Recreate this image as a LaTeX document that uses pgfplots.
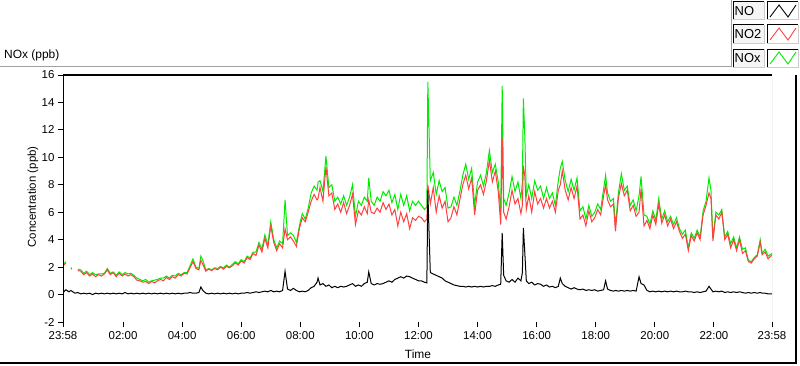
\documentclass[border=0pt]{standalone}
\usepackage{pgfplots}
\usepackage{pgfplotstable}
\pgfplotsset{compat=1.18}
\usepackage{fontspec}
\setmainfont{Liberation Sans}
\definecolor{noxgreen}{RGB}{0,235,0}
\definecolor{notwored}{RGB}{255,64,64}
\definecolor{frame}{RGB}{160,160,160}

\pgfplotstableread{
t NO NO2 NOx
0 0.15 2.1 2.2
6 0.35 2.3 2.4
12 0.2 nan nan
16 0.3 1.85 1.9
18 0.25 1.9 1.95
24 0.1 nan nan
30 0.15 1.75 1.85
36 0.05 1.7 1.8
42 0.1 1.45 1.55
48 0.05 1.6 1.7
54 0.1 1.35 1.45
60 0.0 1.5 1.6
66 0.1 1.3 1.45
72 0.05 1.45 1.5
78 0.1 1.35 1.5
84 0.05 1.5 1.55
90 0.1 1.8 1.9
96 0.05 1.45 1.55
102 0.1 1.6 1.65
108 0.05 1.3 1.4
114 0.1 1.55 1.65
120 0.05 1.35 1.45
126 0.15 1.5 1.6
132 0.05 1.35 1.5
138 0.1 1.45 1.55
144 0.05 1.3 1.4
150 0.1 1.05 1.2
156 0.05 1.0 1.1
162 0.1 0.9 1.0
168 0.05 0.95 1.1
174 0.1 0.8 0.9
180 0.05 0.95 1.0
186 0.1 0.85 1.05
192 0.05 1.0 1.1
198 0.1 1.1 1.2
204 0.05 1.0 1.2
210 0.1 1.25 1.35
216 0.05 1.1 1.2
222 0.1 1.3 1.4
228 0.05 1.2 1.35
234 0.1 1.45 1.55
240 0.05 1.35 1.45
246 0.1 1.55 1.6
252 0.1 1.5 1.6
258 0.15 1.95 2.1
264 0.1 2.4 2.6
270 0.1 1.9 2.0
276 0.15 1.8 1.9
280 0.55 2.5 2.8
284 0.3 2.2 2.5
290 0.1 1.7 1.8
296 0.05 1.85 1.9
302 0.1 1.75 1.8
308 0.05 1.9 1.95
314 0.1 1.8 1.9
320 0.05 2.0 2.05
326 0.1 1.85 1.95
332 0.05 2.05 2.15
338 0.1 1.95 2.0
344 0.05 2.1 2.2
350 0.1 2.3 2.4
356 0.05 2.15 2.25
362 0.1 2.45 2.55
368 0.1 2.3 2.4
374 0.15 2.7 2.8
380 0.1 2.55 2.65
386 0.15 3.0 3.1
392 0.2 2.85 3.1
398 0.15 3.6 3.8
404 0.2 3.1 3.3
410 0.25 4.1 4.35
416 0.2 3.4 3.6
422 0.3 5.0 5.3
428 0.2 3.8 4.0
434 0.25 3.2 3.4
440 0.2 3.7 3.9
446 0.3 3.4 3.7
451 1.7 4.8 6.9
456 0.4 4.0 4.3
462 0.3 4.2 4.5
468 0.45 3.9 4.3
474 0.3 3.5 3.8
480 0.2 4.8 5.0
486 0.25 5.6 5.9
492 0.2 5.3 5.5
498 0.3 6.0 6.3
504 0.5 6.8 7.4
510 0.6 7.3 7.9
516 0.9 6.9 7.6
518 1.2 7.0 8.2
522 0.7 7.8 8.3
528 0.8 6.8 7.5
534 0.6 9.3 10.1
540 0.7 7.2 7.8
546 0.5 7.4 8.0
552 0.6 6.2 6.8
558 0.5 6.6 7.1
564 0.6 6.0 6.6
570 0.55 6.7 7.2
576 0.6 5.9 6.5
582 0.7 6.5 7.1
588 0.8 7.3 8.0
594 0.6 5.1 5.7
600 0.7 6.1 6.8
606 0.6 5.8 6.5
612 0.8 6.4 7.1
618 0.9 5.9 6.8
621 1.65 6.9 8.5
626 0.8 6.0 6.8
632 0.7 5.9 6.5
638 0.8 6.3 7.1
644 0.75 6.0 6.8
650 0.8 6.7 7.5
656 0.9 6.2 7.2
662 1.0 6.6 7.6
668 0.9 5.8 6.7
674 1.1 6.2 7.3
680 1.2 5.0 6.2
686 1.3 6.0 7.3
692 1.2 5.3 6.5
698 1.35 5.9 7.2
704 1.3 4.8 6.1
710 1.2 5.6 6.8
716 1.1 5.4 6.5
722 1.0 5.7 6.8
728 1.0 5.6 6.5
734 0.9 5.3 6.2
739 0.85 5.5 6.4
741 7.6 8.0 15.5
743 5.0 7.5 12.6
746 1.6 6.6 8.3
752 1.5 7.8 8.9
758 1.4 6.0 7.3
764 1.3 7.2 8.3
770 1.2 6.3 7.5
776 1.0 6.8 7.8
782 0.9 5.3 6.3
788 0.8 5.6 6.4
794 0.7 6.4 7.1
800 0.65 5.8 6.5
806 0.6 6.9 7.5
812 0.6 8.0 8.7
818 0.55 8.7 9.5
824 0.6 7.7 8.4
830 0.55 8.5 9.2
836 0.6 5.8 6.5
842 0.55 7.6 8.2
848 0.6 8.0 8.7
854 0.55 7.3 7.9
860 0.6 8.3 8.9
866 0.6 9.8 10.5
872 0.65 8.2 8.9
878 0.6 9.0 9.5
884 0.7 7.5 8.2
889 0.75 5.1 6.0
892 4.5 11.4 15.2
895 1.4 6.0 7.0
900 1.0 5.5 6.5
906 0.9 6.4 7.4
912 1.1 7.6 8.6
918 0.9 6.6 7.5
924 1.2 7.0 8.2
930 1.0 5.9 7.0
933 1.6 6.5 8.2
935 4.85 9.4 14.3
938 3.0 8.6 11.5
941 1.0 6.2 7.2
946 0.8 7.2 8.0
952 0.9 6.0 7.0
958 0.7 7.5 8.3
964 0.8 6.6 7.6
970 0.75 7.0 7.9
976 0.6 6.3 7.0
982 0.7 7.0 7.8
988 0.55 6.3 7.0
994 0.6 6.8 7.4
1000 0.5 6.0 6.5
1006 0.6 7.6 8.3
1010 1.2 8.0 9.2
1014 0.8 9.0 9.7
1020 0.6 7.6 8.3
1026 0.5 6.9 7.5
1032 0.4 7.8 8.4
1038 0.5 7.0 7.6
1044 0.4 7.9 8.5
1050 0.35 5.5 6.1
1056 0.4 5.8 6.4
1062 0.3 5.0 5.5
1068 0.35 6.1 6.5
1074 0.3 5.3 5.7
1080 0.35 5.6 6.0
1086 0.25 6.2 6.6
1092 0.3 5.8 6.2
1098 0.35 7.2 7.7
1102 1.0 8.0 8.7
1106 0.4 6.9 7.4
1112 0.3 6.4 6.8
1118 0.25 6.6 7.0
1122 0.3 4.6 5.0
1128 0.25 7.0 7.4
1134 0.3 8.1 8.8
1140 0.25 7.2 7.6
1146 0.3 7.6 7.9
1152 0.25 6.1 6.5
1158 0.3 6.5 6.9
1164 0.25 5.7 6.1
1170 1.3 6.0 7.2
1174 0.8 7.7 8.6
1180 0.7 5.0 5.8
1186 0.3 5.4 5.7
1192 0.2 4.8 5.1
1198 0.25 5.8 6.1
1204 0.2 5.1 5.4
1210 0.25 6.6 7.0
1216 0.2 5.2 5.5
1222 0.25 5.8 6.1
1228 0.2 5.0 5.3
1234 0.25 5.5 5.7
1240 0.2 4.8 5.1
1246 0.25 5.3 5.6
1252 0.2 4.6 4.8
1258 0.2 4.1 4.4
1264 0.25 4.4 4.7
1270 0.2 3.2 3.4
1276 0.2 4.3 4.5
1282 0.15 3.9 4.1
1288 0.2 4.5 4.7
1294 0.15 4.0 4.2
1300 0.2 5.8 6.1
1306 0.25 6.5 6.8
1312 0.6 7.4 8.5
1316 0.4 7.0 7.6
1320 0.2 3.9 4.1
1326 0.25 5.8 6.0
1332 0.2 5.5 5.8
1338 0.25 6.0 6.2
1344 0.15 4.0 4.2
1350 0.2 4.4 4.6
1356 0.15 3.4 3.7
1362 0.2 4.0 4.2
1368 0.15 3.2 3.4
1374 0.2 4.0 4.2
1380 0.15 3.0 3.3
1386 0.1 3.2 3.4
1392 0.15 2.4 2.5
1398 0.1 2.3 2.4
1404 0.15 2.6 2.7
1410 0.1 2.8 2.9
1416 0.15 3.8 4.0
1420 0.1 2.9 3.0
1426 0.1 3.1 3.3
1432 0.05 2.6 2.8
1440 0.05 2.9 3.0
}\datatable

\begin{document}
\begin{tikzpicture}[x=1bp,y=1bp]
\path[use as bounding box] (0,0) rectangle (800,365);
% panel frame
\draw[frame, line width=1bp] (0,299) -- (731,299) -- (731,365);
\draw[black, line width=1.2bp] (0,2) -- (796,2) -- (796,290);
% titles
\node[anchor=west, font=\fontsize{12}{14}\selectfont, inner sep=0] at (4,310) {NOx (ppb)};
\node[rotate=90, font=\fontsize{11.5}{13}\selectfont, inner sep=0] at (33,168) {Concentration (ppb)};
\node[font=\fontsize{12}{14}\selectfont, inner sep=0] at (418,11) {Time};

\begin{axis}[
  at={(63bp,43bp)}, anchor=south west,
  scale only axis, width=709bp, height=247bp,
  xmin=0, xmax=1440, ymin=-2, ymax=16,
  xtick={0,122,242,362,482,602,722,842,962,1082,1202,1322,1440},
  xticklabels={23:58,02:00,04:00,06:00,08:00,10:00,12:00,14:00,16:00,18:00,20:00,22:00,23:58},
  minor x tick num=8,
  ytick={-2,0,2,4,6,8,10,12,14,16},
  tick pos=left, tick align=outside,
  major tick length=5bp, minor tick length=3bp,
  every tick/.style={black, line width=0.9bp},
  axis line style={draw=none},
  /pgf/number format/assume math mode=true,
  ticklabel style={font=\fontsize{11.5}{13}\selectfont},
  xticklabel style={yshift=-1bp},
  unbounded coords=jump,
]
\addplot[noxgreen, line width=1bp] table[x=t, y=NOx] {\datatable};
\addplot[notwored, line width=1bp] table[x=t, y=NO2] {\datatable};
\addplot[black, line width=1bp] table[x=t, y=NO] {\datatable};
\draw[black, line width=1.2bp] (rel axis cs:0,0) -- (rel axis cs:0,1) -- (rel axis cs:1,1);
\draw[frame, line width=1bp] (rel axis cs:1,1) -- (rel axis cs:1,0);
\end{axis}

% legend
\foreach \yb/\lab/\col in {345/NO/black, 322/NO2/notwored, 298/NOx/noxgreen}{
  \fill[gray!8] (733,\yb) rectangle (764,\yb+18);
  \draw[black, line width=1bp] (733,\yb) -- (733,\yb+18) -- (764,\yb+18);
  \draw[gray!40, line width=1bp] (764,\yb+18) -- (764,\yb) -- (733,\yb);
  \node[anchor=west, font=\fontsize{13}{14}\selectfont, inner sep=0] at (734.5,\yb+9) {\lab};
  \fill[white] (767,\yb) rectangle (798,\yb+18);
  \draw[black, line width=1bp] (767,\yb) -- (767,\yb+18) -- (798,\yb+18);
  \draw[gray!40, line width=1bp] (798,\yb+18) -- (798,\yb) -- (767,\yb);
  \draw[\col, line width=0.9bp] (770,\yb+3) -- (779,\yb+15) -- (788,\yb+3) -- (796,\yb+15);
}
\end{tikzpicture}
\end{document}
